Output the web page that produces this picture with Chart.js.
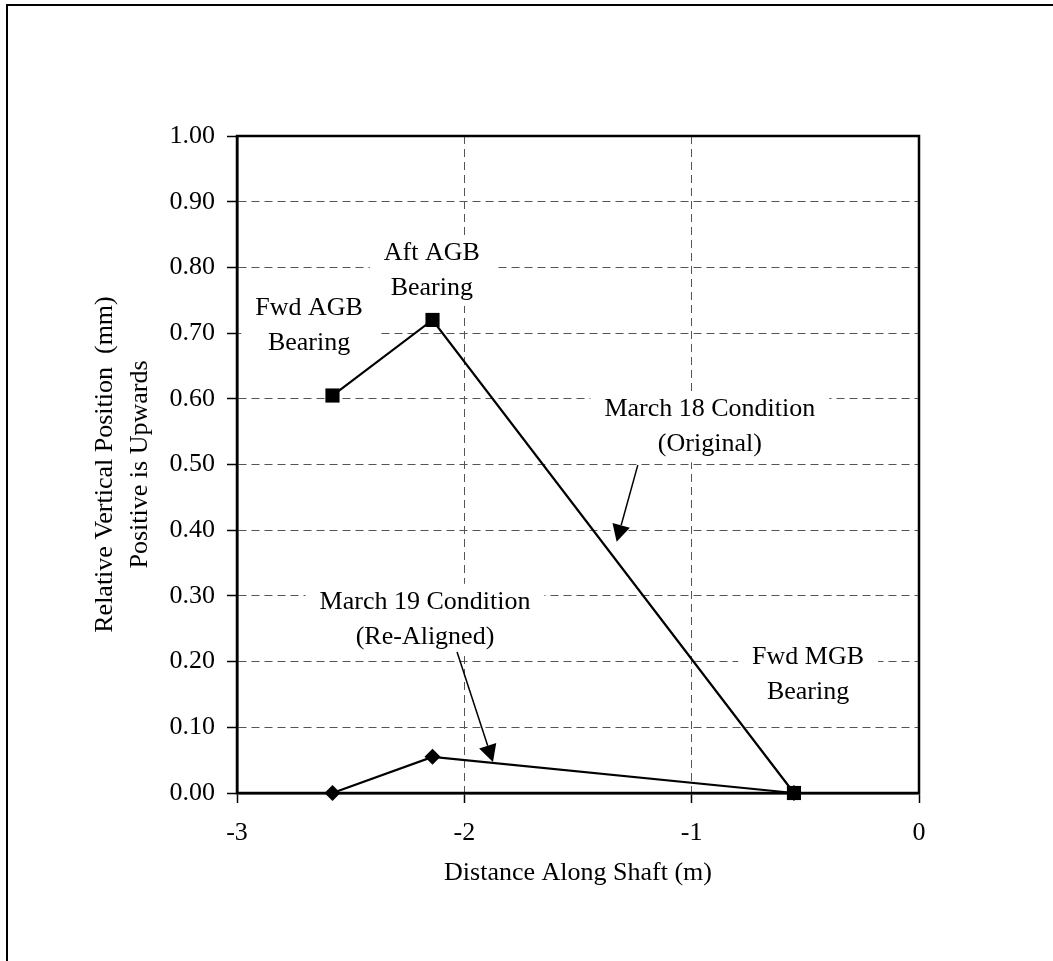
<!DOCTYPE html>
<html>
<head>
<meta charset="utf-8">
<script src="https://cdn.jsdelivr.net/npm/chart.js@4/dist/chart.umd.min.js"></script>
<style>
  html, body { margin: 0; padding: 0; background: #fff; }
  #wrap { width: 1053px; height: 961px; position: relative; }
</style>
</head>
<body>
<div id="wrap"><canvas id="shaftChart"></canvas></div>
<script>
// --- data ---
const shaftDistance = [-2.58, -2.14, -0.55];
const march18Values = [0.605, 0.72, 0.0];
const march19Values = [0.0, 0.055, 0.0];
const xTickValues = [-3, -2, -1, 0];
const yTickValues = [0, 0.1, 0.2, 0.3, 0.4, 0.5, 0.6, 0.7, 0.8, 0.9, 1.0];

// text callouts (data units) and arrows
const notes = [
    { x: -2.143, y: 0.822, lines: ['Aft AGB', 'Bearing'] },
    { x: -2.683, y: 0.738, lines: ['Fwd AGB', 'Bearing'] },
    { x: -0.92, y: 0.584, lines: ['March 18 Condition', '(Original)'] },
    { x: -2.173, y: 0.291, lines: ['March 19 Condition', '(Re-Aligned)'] },
    { x: -0.488, y: 0.207, lines: ['Fwd MGB', 'Bearing'] }
];
const arrows = [
    { from: [-1.237, 0.499], to: [-1.330, 0.3825] },
    { from: [-2.032, 0.2146], to: [-1.874, 0.0472] }
];

const FONT = '"Liberation Serif", "Times New Roman", serif';
const FONT_SIZE = 26;
const LINE_GAP = 35;

const calloutPlugin = {
    id: 'callouts',
    beforeDatasetsDraw(chart) {
        const ctx = chart.ctx;
        const xs = chart.scales.x, ys = chart.scales.y;
        const area = chart.chartArea;
        ctx.save();
        // box around plot area
        ctx.strokeStyle = '#000';
        ctx.lineWidth = 2.5;
        ctx.strokeRect(area.left, area.top, area.right - area.left, area.bottom - area.top);

        ctx.font = FONT_SIZE + 'px ' + FONT;
        ctx.textAlign = 'center';
        ctx.textBaseline = 'middle';
        notes.forEach(n => {
            const cx = xs.getPixelForValue(n.x);
            const cy = ys.getPixelForValue(n.y);
            const w = Math.max(...n.lines.map(l => ctx.measureText(l).width));
            const top = cy - FONT_SIZE / 2 - 5;
            const h = LINE_GAP * (n.lines.length - 1) + FONT_SIZE + 10;
            const left = Math.max(area.left + 1, cx - w / 2 - 14);
            ctx.fillStyle = '#fff';
            ctx.fillRect(left, top, cx + w / 2 + 14 - left, h);
            ctx.fillStyle = '#000';
            n.lines.forEach((l, i) => ctx.fillText(l, cx, cy + i * LINE_GAP));
        });
        ctx.restore();
    },
    afterDatasetsDraw(chart) {
        const ctx = chart.ctx;
        const xs = chart.scales.x, ys = chart.scales.y;
        ctx.save();
        ctx.strokeStyle = '#000';
        ctx.fillStyle = '#000';
        ctx.lineWidth = 1.5;
        arrows.forEach(a => {
            const x1 = xs.getPixelForValue(a.from[0]), y1 = ys.getPixelForValue(a.from[1]);
            const x2 = xs.getPixelForValue(a.to[0]), y2 = ys.getPixelForValue(a.to[1]);
            const ang = Math.atan2(y2 - y1, x2 - x1);
            const headLen = 17, headHalf = 9;
            const bx = x2 - headLen * Math.cos(ang), by = y2 - headLen * Math.sin(ang);
            ctx.beginPath();
            ctx.moveTo(x1, y1);
            ctx.lineTo(bx, by);
            ctx.stroke();
            ctx.beginPath();
            ctx.moveTo(x2, y2);
            ctx.lineTo(bx + headHalf * Math.sin(ang), by - headHalf * Math.cos(ang));
            ctx.lineTo(bx - headHalf * Math.sin(ang), by + headHalf * Math.cos(ang));
            ctx.closePath();
            ctx.fill();
        });
        ctx.restore();
    },
    afterDraw(chart) {
        // outer frame (left + top edges only show in the picture)
        const ctx = chart.ctx;
        ctx.save();
        ctx.strokeStyle = '#000';
        ctx.lineWidth = 2;
        ctx.beginPath();
        ctx.moveTo(7, chart.height);
        ctx.lineTo(7, 5);
        ctx.lineTo(chart.width, 5);
        ctx.stroke();
        ctx.restore();
    }
};

const toPoints = vals => vals.map((v, i) => ({ x: shaftDistance[i], y: v }));

const ctx = document.getElementById('shaftChart').getContext('2d');
new Chart(ctx, {
    type: 'scatter',
    data: {
        datasets: [{
            label: 'March 18 Condition (Original)',
            data: toPoints(march18Values),
            showLine: true,
            clip: false,
            borderColor: '#000',
            backgroundColor: '#000',
            borderWidth: 2.2,
            pointStyle: 'rect',
            pointRadius: 10,
            pointBorderWidth: 0
        }, {
            label: 'March 19 Condition (Re-Aligned)',
            data: toPoints(march19Values),
            showLine: true,
            clip: false,
            borderColor: '#000',
            backgroundColor: '#000',
            borderWidth: 2.2,
            pointStyle: 'rectRot',
            pointRadius: 8,
            pointBorderWidth: 0
        }]
    },
    options: {
        responsive: true,
        maintainAspectRatio: false,
        animation: false,
        layout: { padding: { top: 136, right: 134, left: 0, bottom: 0 } },
        plugins: { legend: { display: false }, tooltip: { enabled: false } },
        scales: {
            x: {
                type: 'linear',
                min: -3,
                max: 0,
                afterBuildTicks: axis => { axis.ticks = xTickValues.map(v => ({ value: v })); },
                afterFit: axis => { axis.height = 168; },
                ticks: {
                    color: '#000',
                    padding: 15,
                    font: { family: FONT, size: FONT_SIZE },
                    callback: v => String(v)
                },
                grid: { color: '#555', lineWidth: 1, tickLength: 10, tickColor: '#000', tickWidth: 1.5, tickBorderDash: [] },
                border: { display: true, color: '#000', width: 2.5, dash: [8, 5] },
                title: {
                    display: true,
                    text: 'Distance Along Shaft (m)',
                    color: '#000',
                    font: { family: FONT, size: FONT_SIZE },
                    padding: { top: 4, bottom: 72 }
                }
            },
            y: {
                min: 0,
                max: 1,
                afterBuildTicks: axis => { axis.ticks = yTickValues.map(v => ({ value: v })); },
                afterFit: axis => { axis.width = 237; },
                ticks: {
                    color: '#000',
                    padding: 12,
                    font: { family: FONT, size: FONT_SIZE },
                    callback: v => Number(v).toFixed(2)
                },
                grid: { color: '#555', lineWidth: 1, tickLength: 10, tickColor: '#000', tickWidth: 1.5, tickBorderDash: [] },
                border: { display: true, color: '#000', width: 2.5, dash: [8, 5] },
                title: {
                    display: true,
                    text: ['Relative Vertical Position  (mm)', 'Positive is Upwards'],
                    color: '#000',
                    font: { family: FONT, size: FONT_SIZE, lineHeight: 1.35 },
                    padding: { top: 88, bottom: 0 }
                }
            }
        }
    },
    plugins: [calloutPlugin]
});
</script>
</body>
</html>
